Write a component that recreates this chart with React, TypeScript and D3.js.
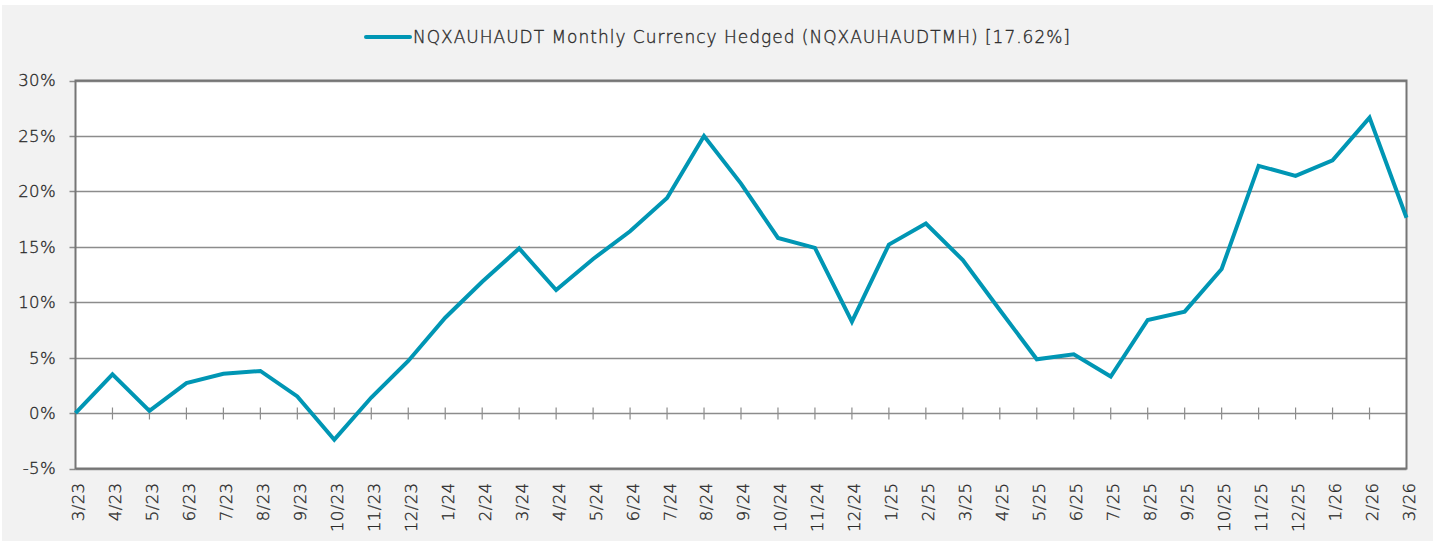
import React, { useEffect, useRef } from "react";
import * as d3 from "d3";

const categories: string[] = [
  "3/23", "4/23", "5/23", "6/23", "7/23", "8/23", "9/23", "10/23", "11/23", "12/23",
  "1/24", "2/24", "3/24", "4/24", "5/24", "6/24", "7/24", "8/24", "9/24", "10/24", "11/24", "12/24",
  "1/25", "2/25", "3/25", "4/25", "5/25", "6/25", "7/25", "8/25", "9/25", "10/25", "11/25", "12/25",
  "1/26", "2/26", "3/26",
];

const seriesValues: number[] = [
  0.0, 3.5, 0.2, 2.7, 3.55, 3.8, 1.5, -2.4, 1.4, 4.7,
  8.6, 11.85, 14.85, 11.1, 13.9, 16.4, 19.4, 25.0, 20.7, 15.8, 14.9, 8.25,
  15.2, 17.1, 13.8, 9.3, 4.85, 5.3, 3.3, 8.4, 9.15, 13.0, 22.3, 21.4,
  22.8, 26.65, 17.62,
];

const yTicks: number[] = [-5, 0, 5, 10, 15, 20, 25, 30];
const seriesName = "NQXAUHAUDT Monthly Currency Hedged (NQXAUHAUDTMH) [17.62%]";

const W = 1435;
const H = 544;
const FONT = "'DejaVu Sans', sans-serif";

export default function App() {
  const ref = useRef<SVGSVGElement | null>(null);

  useEffect(() => {
    const svg = d3.select(ref.current);
    svg.selectAll("*").remove();

    const left = 75.5, right = 1406.5, top = 80.5, bottom = 468.5;
    const x = d3.scalePoint<string>().domain(categories).range([left, right]);
    const y = d3.scaleLinear().domain([-5, 30]).range([bottom, top]);

    svg.append("rect").attr("x", 2).attr("y", 5).attr("width", W - 4).attr("height", H - 8).attr("fill", "#f2f2f2");
    svg.append("rect").attr("x", left).attr("y", top).attr("width", right - left).attr("height", bottom - top).attr("fill", "#ffffff");

    // gridlines
    svg.append("g").selectAll("line").data(yTicks).join("line")
      .attr("x1", left).attr("x2", right)
      .attr("y1", (d) => Math.round(y(d)) + 0.5).attr("y2", (d) => Math.round(y(d)) + 0.5)
      .attr("stroke", "#8c8c8c").attr("stroke-width", 1.5);

    // y axis ticks
    svg.append("g").selectAll("line").data(yTicks).join("line")
      .attr("x1", left - 6).attr("x2", left)
      .attr("y1", (d) => Math.round(y(d)) + 0.5).attr("y2", (d) => Math.round(y(d)) + 0.5)
      .attr("stroke", "#8c8c8c").attr("stroke-width", 1.5);

    // x ticks on zero line
    const y0 = Math.round(y(0)) + 0.5;
    svg.append("g").selectAll("line").data(categories.slice(1, -1)).join("line")
      .attr("x1", (d) => x(d)!).attr("x2", (d) => x(d)!)
      .attr("y1", y0 - 6).attr("y2", y0 + 6)
      .attr("stroke", "#8c8c8c").attr("stroke-width", 1.2);

    // border
    svg.append("rect").attr("x", left).attr("y", top).attr("width", right - left).attr("height", bottom - top)
      .attr("fill", "none").attr("stroke", "#757575").attr("stroke-width", 2);

    const textStyle = (sel: any) =>
      sel.attr("font-family", FONT).attr("font-weight", 200).attr("fill", "#2b2b2b")
        .attr("stroke", "#2b2b2b").attr("stroke-width", 0.35);

    // y labels
    svg.append("g").selectAll("text").data(yTicks).join("text")
      .attr("x", 56).attr("y", (d) => y(d)).attr("dy", "0.36em")
      .attr("text-anchor", "end").attr("font-size", 16.5).attr("letter-spacing", 0.4)
      .call(textStyle)
      .text((d) => `${d}%`);

    // x labels
    svg.append("g").selectAll("text").data(categories).join("text")
      .attr("transform", (d) => `translate(${x(d)! + 2.5},${bottom + 14}) rotate(-90)`)
      .attr("dy", "0.36em")
      .attr("text-anchor", "end").attr("font-size", 16.5).attr("letter-spacing", 0.4)
      .call(textStyle)
      .text((d) => d);

    // line
    const line = d3.line<number>().x((_, i) => x(categories[i])!).y((d) => y(d));
    svg.append("path").datum(seriesValues).attr("d", line)
      .attr("fill", "none").attr("stroke", "#0096b4").attr("stroke-width", 4)
      .attr("stroke-linejoin", "miter");

    // legend
    const lg = svg.append("g");
    lg.append("line").attr("x1", 366).attr("x2", 410).attr("y1", 37).attr("y2", 37)
      .attr("stroke", "#0096b4").attr("stroke-width", 4).attr("stroke-linecap", "round");
    lg.append("text").attr("x", 413).attr("y", 37).attr("dy", "0.36em")
      .attr("font-size", 17)
      .call(textStyle)
      .attr("textLength", 657).attr("lengthAdjust", "spacing")
      .text(seriesName);
  }, []);

  return (
    <div style={{ position: "absolute", left: 0, top: 0 }}>
      <svg ref={ref} width={W} height={H} style={{ display: "block", background: "#ffffff" }} />
    </div>
  );
}
